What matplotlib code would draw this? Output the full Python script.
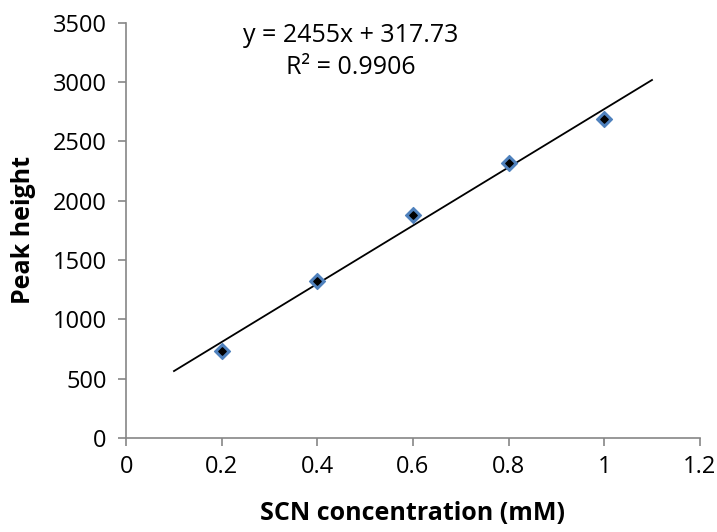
import matplotlib
matplotlib.use("Agg")
import matplotlib.pyplot as plt
import numpy as np

conc = [0.2, 0.4, 0.6, 0.8, 1.0]
peak = [730, 1320, 1880, 2320, 2690]
slope = 2455
intercept = 317.73
eq_text = "y = 2455x + 317.73"
r2_text = "R² = 0.9906"

plt.rcParams['font.family'] = ['Open Sans', 'DejaVu Sans']
plt.rcParams['font.size'] = 18

fig = plt.figure(figsize=(7.17, 5.32), dpi=100)
ax = fig.add_axes([0.176, 0.177, 0.800, 0.780])

# trend line
xl = np.array([0.1, 1.1])
ax.plot(xl, slope * xl + intercept, color='black', lw=1.3, zorder=2)

ax.scatter(conc, peak, marker='D', s=65, color='#4F81BD', zorder=3)
ax.scatter(conc, peak, marker='D', s=14, color='black', zorder=4)

ax.set_xlim(0, 1.2)
ax.set_ylim(0, 3500)
ax.set_xticks(np.arange(0, 1.21, 0.2))
ax.set_xticklabels(['0', '0.2', '0.4', '0.6', '0.8', '1', '1.2'])
ax.set_yticks(np.arange(0, 3501, 500))

for s in ['top', 'right']:
    ax.spines[s].set_visible(False)
for s in ['left', 'bottom']:
    ax.spines[s].set_color('#868686')
    ax.spines[s].set_linewidth(1.2)
ax.tick_params(direction='out', length=6, width=1.2, color='#868686', pad=6,
               labelsize=17)
ax.tick_params(axis='y', pad=8)

ax.set_xlabel('SCN concentration (mM)', fontweight='bold', labelpad=16)
ax.set_ylabel('Peak height', fontweight='bold', labelpad=12)

ax.text(0.47, 3390, eq_text, ha='center', va='center')
ax.text(0.47, 3120, r2_text, ha='center', va='center')

fig.savefig('out.png', dpi=100)
